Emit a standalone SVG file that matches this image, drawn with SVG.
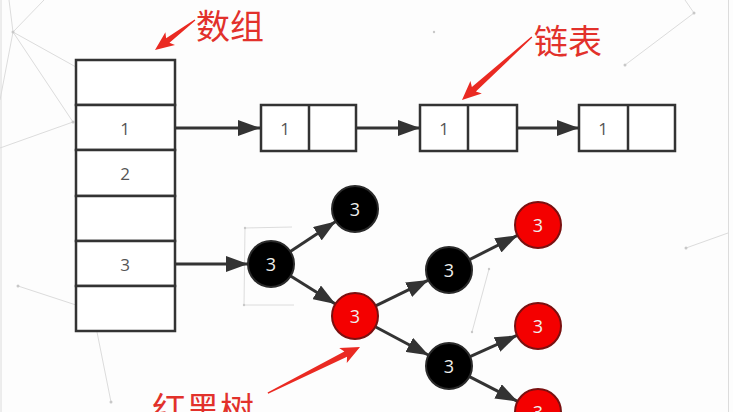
<svg xmlns="http://www.w3.org/2000/svg" width="733" height="412" viewBox="0 0 733 412">
<defs>
<style>
.bg{stroke:#dcdcdc;stroke-width:1;fill:none}
.dot{fill:#c8c8c8}
.box{fill:#fff;stroke:#333;stroke-width:2.5}
.cell{font-family:"Open Sans","DejaVu Sans",sans-serif;font-size:17px;fill:#555;text-anchor:middle;dominant-baseline:central}
.edge{stroke:#333;stroke-width:3;fill:none;marker-end:url(#ah)}
.blk{fill:#000;stroke:#2a2a2a;stroke-width:2}
.red{fill:#f40000;stroke:#7a1010;stroke-width:2}
.num{font-family:"Open Sans","DejaVu Sans",sans-serif;font-size:18px;fill:#eee;text-anchor:middle;dominant-baseline:central}
.lab{font-family:"Noto Sans CJK SC",sans-serif;font-size:34px;fill:#e2312b}
.rarr{fill:#ea2a22}
</style>
<marker id="ah" markerUnits="userSpaceOnUse" viewBox="0 0 22 16" markerWidth="22" markerHeight="16" refX="22" refY="8" orient="auto">
<path d="M0,0 L22,8 L0,16 Z" fill="#333"/>
</marker>
</defs>
<rect width="733" height="412" fill="#fdfdfd"/>
<g id="background">
<line class="bg" x1="1" y1="0" x2="1" y2="412"/>
<line class="bg" x1="728.5" y1="0" x2="728.5" y2="412" stroke="#d4d4d4" stroke-width="1.5"/>
<line class="bg" x1="13" y1="32" x2="76" y2="67"/>
<line class="bg" x1="13" y1="32" x2="73" y2="122"/>
<line class="bg" x1="13" y1="32" x2="44" y2="0"/>
<line class="bg" x1="13" y1="32" x2="9" y2="0"/>
<line class="bg" x1="13" y1="32" x2="0" y2="100"/>
<line class="bg" x1="0" y1="148" x2="73" y2="122"/>
<line class="bg" x1="18" y1="286" x2="76" y2="305"/>
<line class="bg" x1="97" y1="332" x2="111" y2="402"/>
<line class="bg" x1="694" y1="13" x2="625" y2="65"/>
<line class="bg" x1="694" y1="13" x2="685" y2="0"/>
<line class="bg" x1="686" y1="248" x2="728" y2="233"/>
<line class="bg" x1="245" y1="228" x2="292" y2="227"/>
<line class="bg" x1="245" y1="228" x2="244" y2="305"/>
<line class="bg" x1="244" y1="305" x2="294" y2="305"/>
<line class="bg" x1="489" y1="269" x2="472" y2="332"/>
<circle class="dot" cx="13" cy="32" r="1.5"/>
<circle class="dot" cx="73" cy="122" r="1.5"/>
<circle class="dot" cx="18" cy="286" r="1.5"/>
<circle class="dot" cx="111" cy="402" r="1.5"/>
<circle class="dot" cx="694" cy="13" r="1.5"/>
<circle class="dot" cx="625" cy="65" r="1.5"/>
<circle class="dot" cx="686" cy="248" r="1.5"/>
<circle class="dot" cx="434" cy="32" r="1.2"/>
<circle class="dot" cx="245" cy="228" r="1.2"/>
<circle class="dot" cx="244" cy="305" r="1.2"/>
<circle class="dot" cx="489" cy="269" r="1.2"/>
<circle class="dot" cx="472" cy="332" r="1.2"/>
</g>
<g id="connectors">
<line class="edge" x1="175" y1="128" x2="260" y2="128"/>
<line class="edge" x1="356" y1="128" x2="420" y2="128"/>
<line class="edge" x1="517" y1="128" x2="579" y2="128"/>
<line class="edge" x1="175" y1="264" x2="248" y2="264"/>
<line class="edge" x1="290.3" y1="251.4" x2="335.7" y2="221.6"/>
<line class="edge" x1="290.6" y1="276.1" x2="335.4" y2="303.9"/>
<line class="edge" x1="375.6" y1="305.9" x2="428.4" y2="280.1"/>
<line class="edge" x1="375.3" y1="326.8" x2="428.7" y2="355.2"/>
<line class="edge" x1="469.5" y1="259.6" x2="517.5" y2="235.4"/>
<line class="edge" x1="470" y1="356.6" x2="517" y2="335.4"/>
<line class="edge" x1="469.4" y1="376.6" x2="517.6" y2="401.4"/>
</g>
<g id="array">
<rect class="box" x="76" y="60" width="99" height="45"/>
<rect class="box" x="76" y="105" width="99" height="45"/>
<rect class="box" x="76" y="150" width="99" height="46"/>
<rect class="box" x="76" y="196" width="99" height="45"/>
<rect class="box" x="76" y="241" width="99" height="45"/>
<rect class="box" x="76" y="286" width="99" height="45"/>
<text class="cell" x="125" y="128">1</text>
<text class="cell" x="125" y="173">2</text>
<text class="cell" x="125" y="264">3</text>
</g>
<g id="list1">
<rect class="box" x="261" y="105" width="95" height="46"/>
<line class="box" x1="309" y1="105" x2="309" y2="151"/>
<text class="cell" x="285" y="128">1</text>
</g>
<g id="list2">
<rect class="box" x="420" y="105" width="97" height="46"/>
<line class="box" x1="468" y1="105" x2="468" y2="151"/>
<text class="cell" x="444" y="128">1</text>
</g>
<g id="list3">
<rect class="box" x="579" y="105" width="96" height="46"/>
<line class="box" x1="628" y1="105" x2="628" y2="151"/>
<text class="cell" x="603" y="128">1</text>
</g>
<g id="nodeA"><circle class="blk" cx="271" cy="264" r="23"/><text class="num" x="271" y="264">3</text></g>
<g id="nodeB"><circle class="blk" cx="355" cy="209" r="23"/><text class="num" x="355" y="209">3</text></g>
<g id="nodeC"><circle class="red" cx="355" cy="316" r="23"/><text class="num" x="355" y="316">3</text></g>
<g id="nodeD"><circle class="blk" cx="449" cy="270" r="23"/><text class="num" x="449" y="270">3</text></g>
<g id="nodeE"><circle class="red" cx="538" cy="225" r="23"/><text class="num" x="538" y="225">3</text></g>
<g id="nodeF"><circle class="red" cx="538" cy="326" r="23"/><text class="num" x="538" y="326">3</text></g>
<g id="nodeG"><circle class="blk" cx="449" cy="366" r="23"/><text class="num" x="449" y="366">3</text></g>
<g id="nodeH"><circle class="red" cx="538" cy="412" r="23"/><text class="num" x="538" y="412">3</text></g>
<g id="label-array">
<text class="lab" x="196" y="39" font-size="33">数组</text>
<path class="rarr" transform="translate(155,50) rotate(143.13)" d="M-50,-0.6 L-16,-2.8 L-19,-8 L0,0 L-19,8 L-16,2.8 L-50,0.6 Z"/>
</g>
<g id="label-list">
<text class="lab" x="534" y="54">链表</text>
<path class="rarr" transform="translate(462,100) rotate(138)" d="M-94,-0.7 L-16,-3 L-19,-8.5 L0,0 L-19,8.5 L-16,3 L-94,0.7 Z"/>
</g>
<g id="label-tree">
<text class="lab" x="152" y="422" font-size="35">红黑树</text>
<path class="rarr" transform="translate(360,347) rotate(-26.57)" d="M-103,-0.7 L-16,-3 L-19,-8.5 L0,0 L-19,8.5 L-16,3 L-103,0.7 Z"/>
</g>
</svg>
